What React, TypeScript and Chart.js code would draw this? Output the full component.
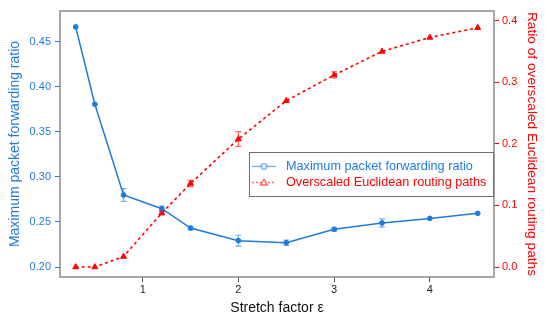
import React, { useEffect, useRef } from "react";
import { Chart, registerables } from "chart.js";

Chart.register(...registerables);

const stretch = [0.3, 0.5, 0.8, 1.2, 1.5, 2, 2.5, 3, 3.5, 4, 4.5];
const maxForwarding = [0.4667, 0.3808, 0.28, 0.2648, 0.2433, 0.2293, 0.227, 0.2419, 0.2489, 0.254, 0.2596];
const maxForwardingErr = [0.001, 0.001, 0.007, 0.003, 0.002, 0.006, 0.003, 0.002, 0.0045, 0.001, 0.001];
const overscaled = [0.0, 0.0, 0.017, 0.0877, 0.1357, 0.2078, 0.27, 0.3117, 0.35, 0.3727, 0.3885];
const overscaledErr = [0.001, 0.001, 0.002, 0.003, 0.005, 0.012, 0.002, 0.005, 0.002, 0.002, 0.002];
const xTicks = [1, 2, 3, 4];
const leftTicks = [0.2, 0.25, 0.3, 0.35, 0.4, 0.45];
const rightTicks = [0.0, 0.1, 0.2, 0.3, 0.4];
const seriesNames = ["Maximum packet forwarding ratio", "Overscaled Euclidean routing paths"];

const BLUE = "#1f7bdb";
const RED = "#ff0000";
const FONT = "'Liberation Sans', Arial, sans-serif";

const errorBars = {
  id: "errorBars",
  afterDatasetsDraw(chart: any) {
    const ctx = chart.ctx;
    const xs = chart.scales.x;
    const sets = [
      { vals: maxForwarding, err: maxForwardingErr, scale: chart.scales.y, color: "rgba(31,123,219,0.6)" },
      { vals: overscaled, err: overscaledErr, scale: chart.scales.y1, color: "rgba(255,0,0,0.6)" },
    ];
    ctx.save();
    sets.forEach((s) => {
      ctx.strokeStyle = s.color;
      ctx.lineWidth = 1.2;
      stretch.forEach((xv, i) => {
        const px = xs.getPixelForValue(xv);
        const y1 = s.scale.getPixelForValue(s.vals[i] - s.err[i]);
        const y2 = s.scale.getPixelForValue(s.vals[i] + s.err[i]);
        if (Math.abs(y1 - y2) < 2.5) return;
        ctx.beginPath();
        ctx.moveTo(px, y1);
        ctx.lineTo(px, y2);
        ctx.moveTo(px - 3, y1);
        ctx.lineTo(px + 3, y1);
        ctx.moveTo(px - 3, y2);
        ctx.lineTo(px + 3, y2);
        ctx.stroke();
      });
    });
    ctx.restore();
  },
};

const boxAndLegend = {
  id: "boxAndLegend",
  afterDraw(chart: any) {
    const ctx = chart.ctx;
    const a = chart.chartArea;
    ctx.save();
    ctx.strokeStyle = "#8a8a8a";
    ctx.lineWidth = 1.5;
    ctx.strokeRect(a.left, a.top, a.right - a.left, a.bottom - a.top);

    // legend
    const lx = a.left + 189;
    const ly = a.top + 141;
    const lw = a.right - lx;
    const lh = 45;
    ctx.fillStyle = "#ffffff";
    ctx.fillRect(lx, ly, lw, lh);
    ctx.strokeStyle = "#6e6e6e";
    ctx.lineWidth = 1;
    ctx.strokeRect(lx + 0.5, ly + 0.5, lw - 1, lh - 1);

    const rows = [
      { y: ly + 14.5, color: BLUE, dash: [], marker: "circle", name: seriesNames[0] },
      { y: ly + 30.5, color: RED, dash: [2, 2], marker: "triangle", name: seriesNames[1] },
    ];
    ctx.font = `12.7px ${FONT}`;
    ctx.textBaseline = "middle";
    rows.forEach((r) => {
      ctx.strokeStyle = r.color;
      ctx.globalAlpha = 0.6;
      ctx.lineWidth = 1.3;
      ctx.setLineDash(r.dash);
      ctx.beginPath();
      ctx.moveTo(lx + 3, r.y);
      ctx.lineTo(lx + 27, r.y);
      ctx.stroke();
      ctx.setLineDash([]);
      ctx.fillStyle = "#ffffff";
      ctx.beginPath();
      if (r.marker === "circle") {
        ctx.arc(lx + 15, r.y, 2.8, 0, Math.PI * 2);
      } else {
        ctx.moveTo(lx + 15, r.y - 3.5);
        ctx.lineTo(lx + 18.5, r.y + 2.5);
        ctx.lineTo(lx + 11.5, r.y + 2.5);
        ctx.closePath();
      }
      ctx.fill();
      ctx.stroke();
      ctx.globalAlpha = 1;
      ctx.fillStyle = r.color;
      ctx.fillText(r.name, lx + 37, r.y);
    });
    ctx.restore();
  },
};

export default function App() {
  const ref = useRef<HTMLCanvasElement | null>(null);
  useEffect(() => {
    if (!ref.current) return;
    const chart = new Chart(ref.current, {
      type: "line",
      data: {
        datasets: [
          {
            label: seriesNames[0],
            data: stretch.map((x, i) => ({ x, y: maxForwarding[i] })),
            borderColor: BLUE,
            backgroundColor: BLUE,
            borderWidth: 1.5,
            pointRadius: 2.4,
            pointStyle: "circle",
            pointBorderWidth: 1,
            yAxisID: "y",
            tension: 0,
          },
          {
            label: seriesNames[1],
            data: stretch.map((x, i) => ({ x, y: overscaled[i] })),
            borderColor: RED,
            backgroundColor: RED,
            borderWidth: 1.6,
            borderDash: [3, 3],
            pointRadius: 3.4,
            pointStyle: "triangle",
            pointBorderWidth: 1,
            yAxisID: "y1",
            tension: 0,
          },
        ],
      },
      options: {
        responsive: false,
        animation: false,
        events: [],
        layout: { padding: { top: 11, left: 0, right: 0, bottom: 0 } },
        plugins: { legend: { display: false }, tooltip: { enabled: false } },
        scales: {
          x: {
            type: "linear",
            min: 0.136,
            max: 4.67,
            afterBuildTicks: (s: any) => {
              s.ticks = xTicks.map((v) => ({ value: v }));
            },
            afterFit: (s: any) => {
              s.height = 43;
            },
            grid: { drawOnChartArea: false, drawTicks: true, tickLength: 5, color: "#555", lineWidth: 1 },
            border: { display: false },
            ticks: { color: "#222", font: { family: FONT, size: 11 }, padding: 1, maxRotation: 0, callback: (v: any) => String(v) },
            title: { display: true, text: "Stretch factor ε", color: "#111", font: { family: FONT, size: 14 }, padding: { top: 0, bottom: 3 } },
          },
          y: {
            type: "linear",
            position: "left",
            min: 0.1889,
            max: 0.4844,
            afterBuildTicks: (s: any) => {
              s.ticks = leftTicks.map((v) => ({ value: v }));
            },
            afterFit: (s: any) => {
              s.width = 60;
            },
            grid: { drawOnChartArea: false, drawTicks: true, tickLength: 5, color: BLUE, lineWidth: 1 },
            border: { display: false },
            ticks: { color: BLUE, font: { family: FONT, size: 11 }, padding: 4, callback: (v: any) => Number(v).toFixed(2) },
            title: { display: true, text: seriesNames[0], color: BLUE, font: { family: FONT, size: 14 }, padding: { top: 7, bottom: 0 } },
          },
          y1: {
            type: "linear",
            position: "right",
            min: -0.0162,
            max: 0.4157,
            afterBuildTicks: (s: any) => {
              s.ticks = rightTicks.map((v) => ({ value: v }));
            },
            afterFit: (s: any) => {
              s.width = 56;
            },
            grid: { drawOnChartArea: false, drawTicks: true, tickLength: 5, color: RED, lineWidth: 1 },
            border: { display: false },
            ticks: { color: RED, font: { family: FONT, size: 11 }, padding: 3, callback: (v: any) => Number(v).toFixed(1) },
            title: { display: true, text: "Ratio of overscaled Euclidean routing paths", color: RED, font: { family: FONT, size: 13.7 }, padding: { top: 10, bottom: 0 } },
          },
        },
      },
      plugins: [errorBars, boxAndLegend],
    } as any);
    return () => chart.destroy();
  }, []);
  return (
    <div style={{ position: "fixed", left: 0, top: 0, width: 550, height: 320, background: "#fff" }}>
      <canvas ref={ref} width={550} height={320} style={{ display: "block" }} />
    </div>
  );
}
